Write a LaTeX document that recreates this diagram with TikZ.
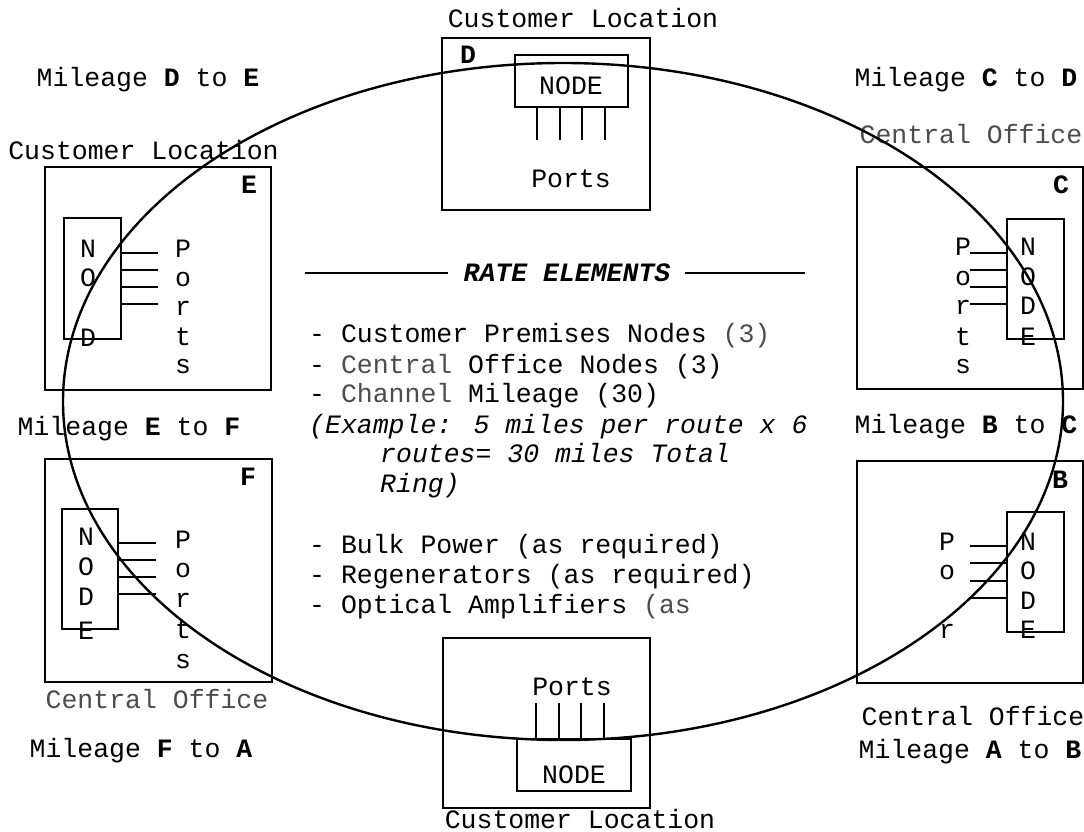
\documentclass[tikz,border=0pt]{standalone}
\usepackage{fontspec}
\newfontfamily\cour{Liberation Mono}
\usetikzlibrary{shapes.geometric}
\definecolor{lt}{gray}{0.3}
\tikzset{
  box/.style={draw, line width=2pt, inner sep=0, rectangle},
  port/.style={line width=2pt},
  txt/.style={font=\cour\fontsize{26.5}{30}\selectfont, inner sep=0, anchor=base},
  ltxt/.style={txt, anchor=base west},
  ring/.style={draw, ellipse, line width=2.4pt, inner sep=0}
}
\begin{document}
\begin{tikzpicture}[x=1pt,y=-1pt]
\useasboundingbox (0,0) rectangle (1084,832);
\fill[white] (0,0) rectangle (1084,832);

% ---------- outer boxes ----------
\node[box, minimum width=208pt, minimum height=172pt] (boxD) at (546,124) {};
\node[box, minimum width=226pt, minimum height=223pt] (boxE) at (158,278.5) {};
\node[box, minimum width=226pt, minimum height=222pt] (boxC) at (970,278) {};
\node[box, minimum width=227pt, minimum height=223pt] (boxF) at (158.5,570.5) {};
\node[box, minimum width=226pt, minimum height=222pt] (boxB) at (970,572) {};
\node[box, minimum width=207pt, minimum height=170pt] (boxA) at (546.5,723) {};

% ---------- inner node boxes ----------
\node[box, minimum width=113pt, minimum height=52pt] (nD) at (571.5,81) {};
\node[box, minimum width=57pt, minimum height=121pt] (nE) at (92.5,278.5) {};
\node[box, minimum width=57pt, minimum height=120pt] (nC) at (1035.5,279) {};
\node[box, minimum width=56pt, minimum height=120pt] (nF) at (90,569) {};
\node[box, minimum width=57pt, minimum height=120pt] (nB) at (1035.5,572) {};
\node[box, minimum width=114pt, minimum height=52pt] (nA) at (574,765) {};

% ---------- ports ----------
\foreach \x [count=\i] in {537,560,582,605} {
  \coordinate (pD\i) at (\x,140);
  \draw[port] (nD.south -| pD\i) -- (pD\i);
}
\foreach \x [count=\i] in {536,559,581,604} {
  \coordinate (pA\i) at (\x,703);
  \draw[port] (nA.north -| pA\i) -- (pA\i);
}
\foreach \y [count=\i] in {253,270,287,304} {
  \coordinate (pE\i) at (158,\y);
  \draw[port] (nE.east |- pE\i) -- (pE\i);
  \coordinate (pC\i) at (970,\y);
  \draw[port] (nC.west |- pC\i) -- (pC\i);
}
\foreach \y [count=\i] in {543,560,577,594} {
  \coordinate (pF\i) at (156,\y);
  \draw[port] (nF.east |- pF\i) -- (pF\i);
}
\foreach \y [count=\i] in {546,563,581,598} {
  \coordinate (pB\i) at (970,\y);
  \draw[port] (nB.west |- pB\i) -- (pB\i);
}

% ---------- box D (top) ----------
\node[txt] (tD) at (583,28) {Customer Location};
\node[txt] (lD) at (468,64) {\textbf{D}};
\node[txt] (wD) at (571,95) {NODE};
\node[txt] (prD) at (571,187) {Ports};

% ---------- box A (bottom) ----------
\node[txt] (prA) at (572,695) {Ports};
\node[txt] (wA) at (574,783) {NODE};
\node[txt] (tA) at (580,828) {Customer Location};

% ---------- box E ----------
\node[txt] (tE) at (143.5,160) {Customer Location};
\node[txt] (lE) at (249,193) {\textbf{E}};
\foreach \c/\y [count=\i] in {N/257,O/286,D/346}
  \node[txt] (eN\i) at (88,\y) {\c};
\foreach \c/\y [count=\i] in {P/257,o/286,r/315,t/345,s/373}
  \node[txt] (eP\i) at (183,\y) {\c};

% ---------- box C ----------
\node[txt, text=lt] (tC) at (971,143) {Central Office};
\node[txt] (lC) at (1061,193) {\textbf{C}};
\foreach \c/\y [count=\i] in {N/255,O/285,D/314,E/345}
  \node[txt] (cN\i) at (1028,\y) {\c};
\foreach \c/\y [count=\i] in {P/255,o/285,r/314,t/345,s/373}
  \node[txt] (cP\i) at (963,\y) {\c};

% ---------- box F ----------
\node[txt] (lF) at (248,485) {\textbf{F}};
\foreach \c/\y [count=\i] in {N/545,O/575,D/605,E/639}
  \node[txt] (fN\i) at (86,\y) {\c};
\foreach \c/\y [count=\i] in {P/548,o/577,r/607,t/638,s/668}
  \node[txt] (fP\i) at (183,\y) {\c};
\node[txt, text=lt] (tF) at (157,708) {Central Office};

% ---------- box B ----------
\node[txt] (lB) at (1060,488) {\textbf{B}};
\foreach \c/\y [count=\i] in {N/550,O/579,D/609,E/638}
  \node[txt] (bN\i) at (1028,\y) {\c};
\foreach \c/\y [count=\i] in {P/550,o/579,r/638}
  \node[txt] (bP\i) at (947,\y) {\c};
\node[txt] (tB) at (973,725) {Central Office};

% ---------- mileage labels ----------
\node[txt] (mDE) at (148,87) {Mileage \textbf{D} to \textbf{E}};
\node[txt] (mCD) at (966,87) {Mileage \textbf{C} to \textbf{D}};
\node[txt] (mEF) at (129,435) {Mileage \textbf{E} to \textbf{F}};
\node[txt] (mBC) at (966,433) {Mileage \textbf{B} to \textbf{C}};
\node[txt] (mFA) at (141,757) {Mileage \textbf{F} to \textbf{A}};
\node[txt] (mAB) at (970,758) {Mileage \textbf{A} to \textbf{B}};

% ---------- rate elements ----------
\node[txt] (title) at (567,281) {\textbf{\textit{RATE ELEMENTS}}};
\coordinate (rl1) at (305,273);
\coordinate (rl2) at (448,273);
\coordinate (rr1) at (685,273);
\coordinate (rr2) at (805,273);
\draw[port] (rl1) -- (rl2);
\draw[port] (rr1) -- (rr2);

\node[ltxt] (r1) at (309,342) {- Customer Premises Nodes \textcolor{lt}{(3)}};
\node[ltxt] (r2) at (309,373) {- \textcolor{lt}{Central} Office Nodes (3)};
\node[ltxt] (r3) at (309,402) {- \textcolor{lt}{Channel} Mileage (30)};
\node[ltxt] (r4) at (309,433) {\textit{(Example: 5 miles per route x 6}};
\node[ltxt] (r5) at (380,462) {\textit{routes= 30 miles Total}};
\node[ltxt] (r6) at (380,492) {\textit{Ring)}};
\node[ltxt] (r7) at (309,553) {- Bulk Power (as required)};
\node[ltxt] (r8) at (309,583) {- Regenerators (as required)};
\node[ltxt] (r9) at (309,613) {- Optical Amplifiers \textcolor{lt}{(as}};

% ---------- ring ----------
\node[ring, minimum width=1000pt, minimum height=677pt] (ringE) at (563,401.5) {};
\end{tikzpicture}
\end{document}
